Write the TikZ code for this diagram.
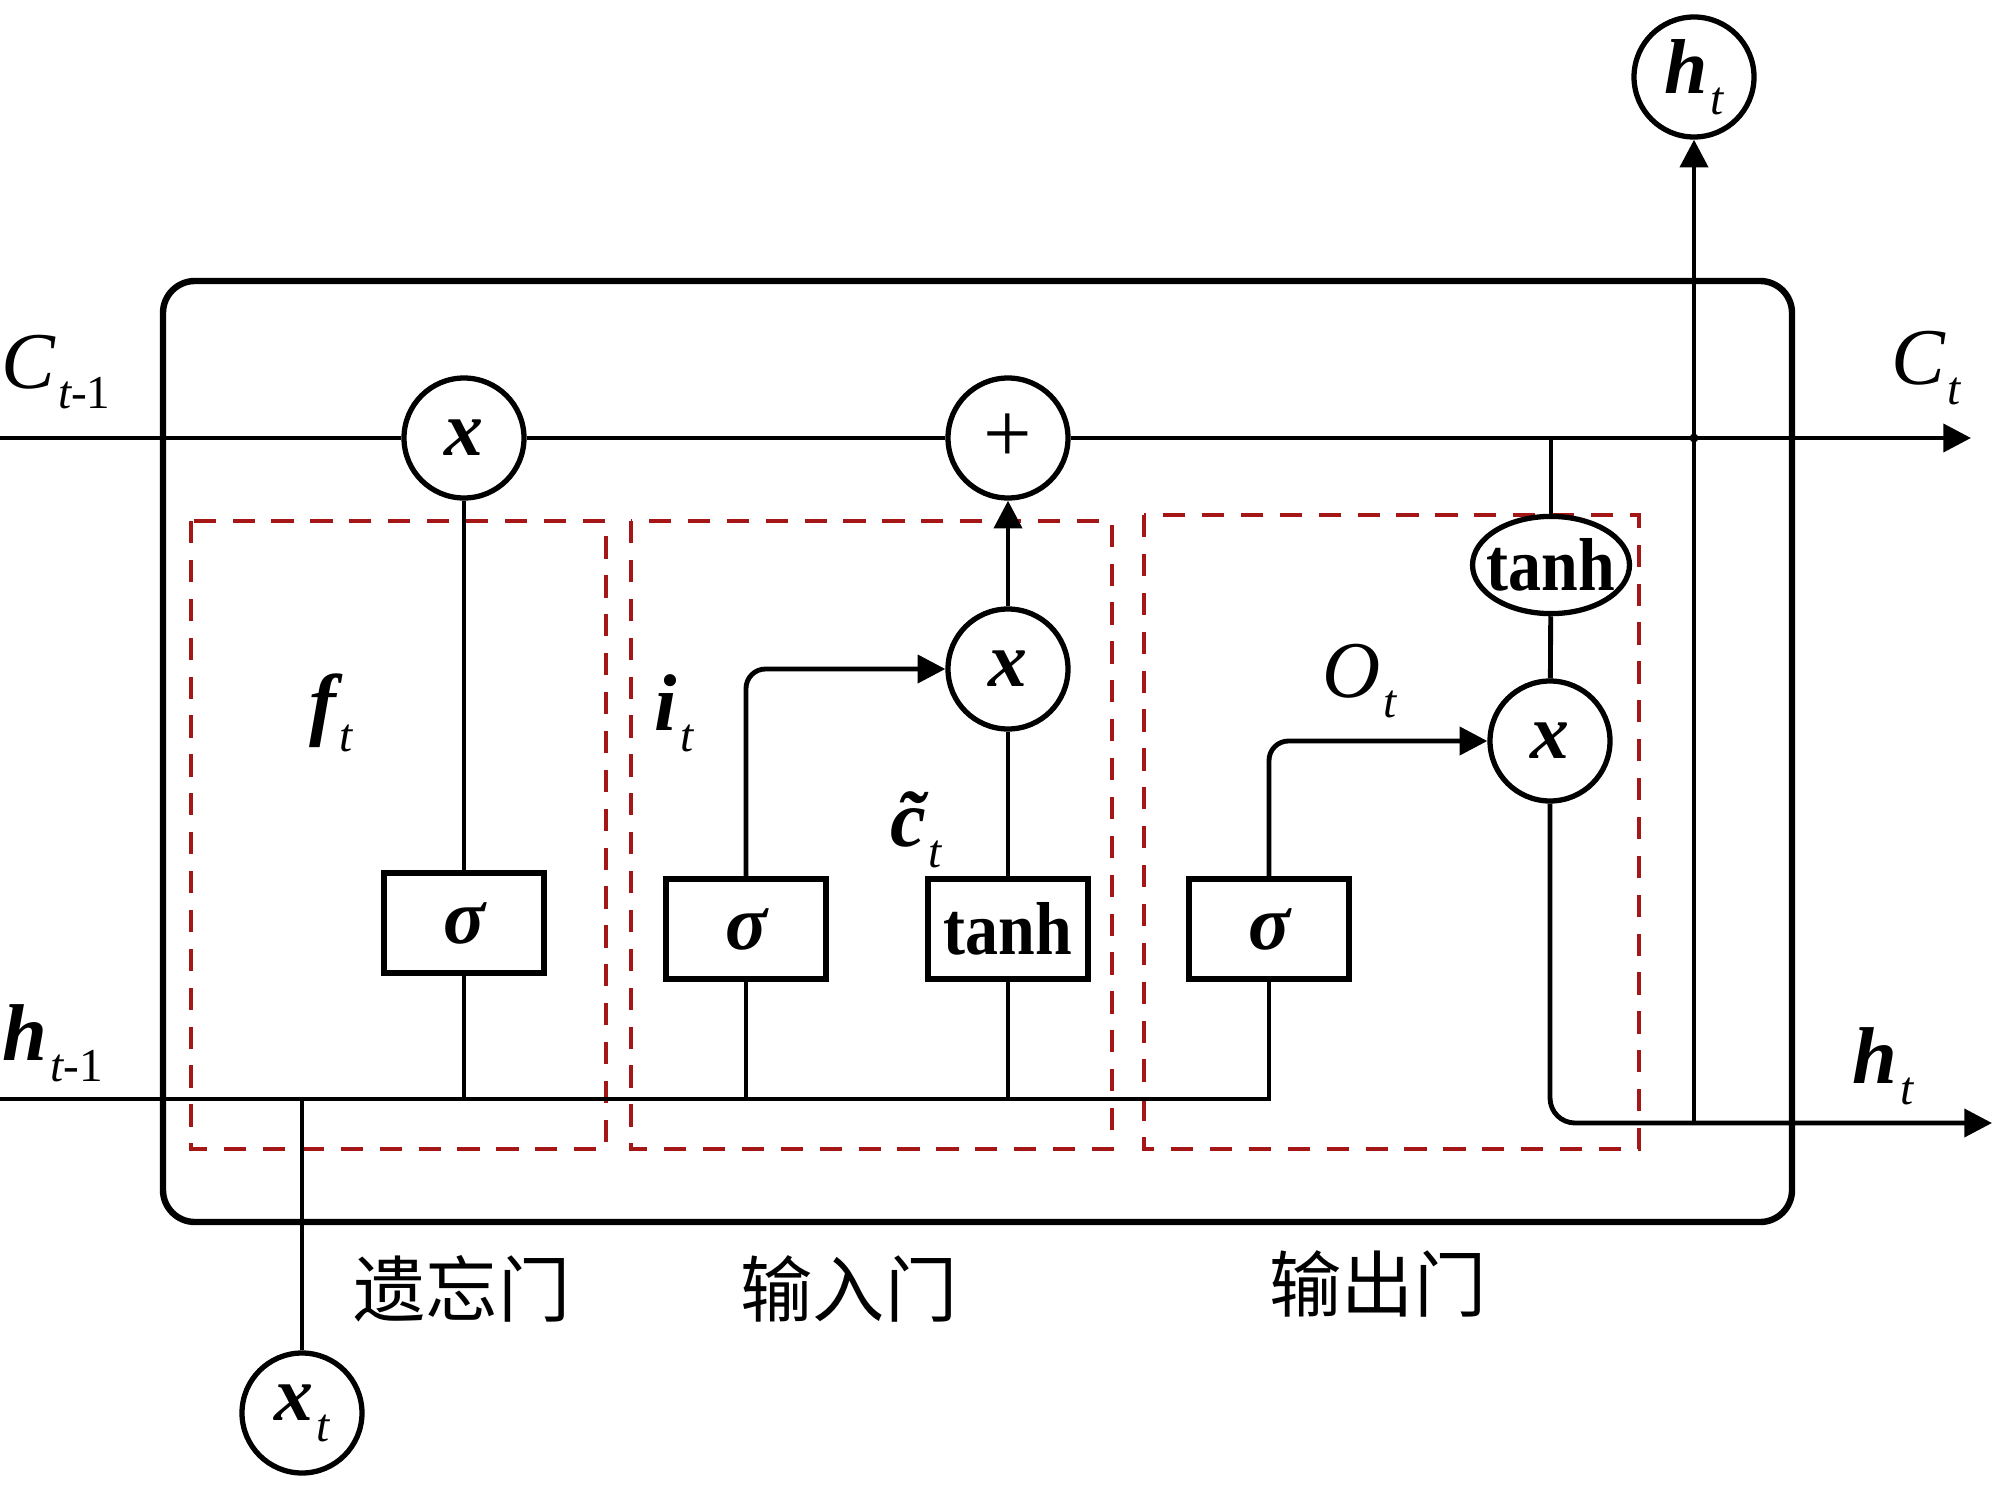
\documentclass[tikz,border=0pt]{standalone}
\usepackage{fontspec}
\usepackage{graphicx}
\setmainfont{Liberation Serif}
\newfontfamily\cjkfont{Noto Sans CJK SC}
\usetikzlibrary{arrows.meta,shapes.geometric}
\definecolor{gatered}{RGB}{165,22,22}
\newcommand{\sbs}[2]{#1\kern1pt\raisebox{-7.5pt}{\fontsize{17}{17}\selectfont\mdseries\itshape #2}}
\newcommand{\tanhtext}{\scalebox{0.88}[1]{\fontsize{27}{27}\selectfont\bfseries\upshape tanh}}

\begin{document}
\begin{tikzpicture}[x=0.36pt,y=0.36pt,yscale=-1,xscale=1,
  conn/.style={line width=1.75pt},
  arr/.style={conn,-{Triangle[length=10pt,width=10pt]}},
  gatebox/.style={draw=gatered,line width=1.7pt,dash pattern=on 8pt off 6pt},
  op/.style={circle,draw,line width=1.9pt,fill=white,minimum size=43.2pt,inner sep=0pt,font=\fontsize{28}{28}\selectfont\bfseries\itshape},
  layer/.style={rectangle,draw,line width=1.9pt,fill=white,minimum width=57.6pt,minimum height=36pt,inner sep=0pt,font=\fontsize{28}{28}\selectfont\bfseries\itshape},
  lbl/.style={inner sep=0pt,font=\fontsize{29}{29}\selectfont\itshape},
  gatename/.style={inner sep=0pt,font=\fontsize{26}{26}\selectfont\cjkfont}]
\useasboundingbox (0,0) rectangle (2000,1486);

%Shape: Rounded Rectangle [cell]
\draw [line width=2.3pt, rounded corners=11.5pt] (163,281) rectangle (1792,1222) ;
%Shape: Dashed Rectangles [gates]
\draw [gatebox] (191,521) rectangle (606,1149) ;
\draw [gatebox] (631,521) rectangle (1112,1149) ;
\draw [gatebox] (1144,515) rectangle (1639,1149) ;

%Free ends
\coordinate (cin) at (0,438) ;
\coordinate (cout) at (1971,438) ;
\coordinate (hin) at (0,1099) ;
\coordinate (hout) at (1992,1123) ;

%Shape: Circles [pointwise ops]
\node [op] (fmul) at (464,438) {x};
\node [op] (add) at (1008,438) {\mdseries\upshape\fontsize{31}{31}\selectfont +};
\node [op] (imul) at (1008,669) {x};
\node [op] (omul) at (1550,741) {x};
\node [op] (htop) at (1694,77) {\sbs{h}{t}};
\node [op] (xin) at (302,1413) {\sbs{x}{t}};
%Shape: Ellipse
\node [ellipse, draw, line width=1.9pt, fill=white, minimum width=56.5pt, minimum height=35pt, inner sep=0pt] (otanh) at (1551,565) {\makebox[30pt]{\tanhtext}};

%Shape: Rectangles [layers]
\node [layer] (fsig) at (464,923) {σ};
\node [layer] (isig) at (746,929) {σ};
\node [layer] (ctanh) at (1008,929) {\makebox[30pt]{\tanhtext}};
\node [layer] (osig) at (1269,929) {σ};

%Straight Lines [cell state]
\draw [conn] (cin) -- (fmul) ;
\draw [conn] (fmul) -- (add) ;
\draw [arr] (add) -- (cout) ;
%Straight Lines [hidden state]
\draw [conn] (hin) -| (osig.south) ;
\draw [conn] (xin) -- (xin |- hin) ;
%Straight Lines [forget gate]
\draw [conn] (fsig) -- (fmul) ;
\draw [conn] (fsig.south) -- (fsig.south |- hin) ;
%Straight Lines [input gate]
\draw [conn] (isig.south) -- (isig.south |- hin) ;
\draw [arr, rounded corners=7pt] (isig.north) |- (imul.west) ;
\draw [conn] (ctanh.south) -- (ctanh.south |- hin) ;
\draw [conn] (ctanh) -- (imul) ;
\draw [arr] (imul) -- (add) ;
%Straight Lines [output gate]
\draw [arr, rounded corners=7pt] (osig.north) |- (omul.west) ;
\draw [conn] (otanh |- cin) -- (otanh) ;
\draw [conn] (otanh) -- (omul) ;
\draw [arr, rounded corners=9pt] (omul.south) |- (hout) ;
\draw [arr] (htop |- hout) -- (htop) ;
\fill (htop |- cin) circle (1.6pt) ;

% Text Node
\node [lbl] (lcprev) at (56,372) {\sbs{C}{t\upshape -1}};
% Text Node
\node [lbl] (lcnext) at (1926,368) {\sbs{C}{t}};
% Text Node
\node [lbl] (lhprev) at (53,1043) {\sbs{\bfseries h}{t\upshape -1}};
% Text Node
\node [lbl] (lhnext) at (1883,1066) {\sbs{\bfseries h}{t}};
% Text Node
\node [lbl] (lf) at (331,713) {\sbs{\bfseries f}{t}};
% Text Node
\node [lbl] (li) at (674,713) {\sbs{\bfseries i}{t}};
% Text Node
\node [lbl] (lc) at (916,830) {\sbs{\bfseries\~{c}}{t}};
% Text Node
\node [lbl] (lo) at (1360,681) {\sbs{O}{t}};
% Text Node
\node [gatename] (nforget) at (462,1289) {遗忘门};
% Text Node
\node [gatename] (ninput) at (849,1289) {输入门};
% Text Node
\node [gatename] (noutput) at (1378,1284) {输出门};

\end{tikzpicture}
\end{document}
